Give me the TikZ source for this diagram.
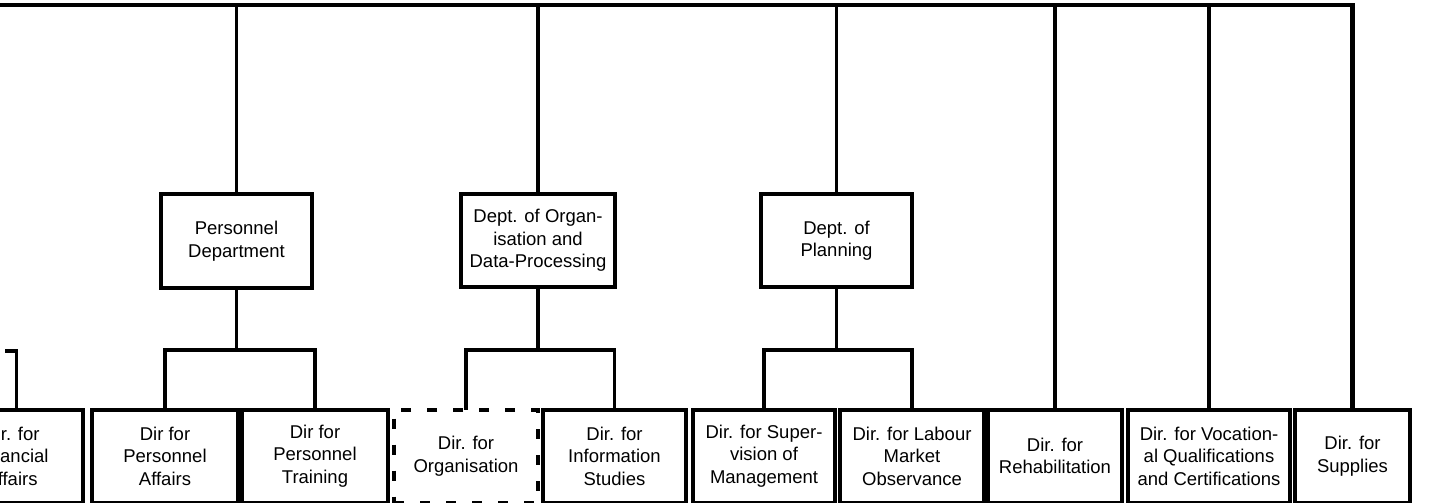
\documentclass[tikz,border=0pt]{standalone}
\usepackage{fontspec}
\setmainfont{Liberation Sans}
\begin{document}
\begin{tikzpicture}[x=1pt,y=-1pt,
  box/.style={draw,line width=4pt,rectangle,inner sep=0pt,outer sep=0pt,align=center,
    font=\fontsize{18.5}{22.5}\selectfont},
  dbox/.style={box,dash pattern=on 10pt off 16pt},
  conn/.style={line width=3.6pt,line join=miter}
]
\useasboundingbox (0,0) rectangle (1432,503);
\clip (0,0) rectangle (1432,503);
\fill[white] (0,0) rectangle (1432,503);

% department boxes
\node[box,minimum width=151pt,minimum height=94pt] (pers) at (236.5,241) {Personnel\\Department};
\node[box,minimum width=154pt,minimum height=93pt] (orgd) at (538,240.5) {Dept. of Organ-\\isation and\\Data-Processing};
\node[box,minimum width=151pt,minimum height=93pt] (plan) at (836.5,240.5) {Dept. of\\Planning};

% directorate boxes
\node[box,minimum width=143pt,minimum height=93pt] (fin) at (11.5,456) {Dir. for\\Financial\\Affairs};
\node[box,minimum width=146pt,minimum height=93pt] (paff) at (165,456) {Dir for\\Personnel\\Affairs};
\node[box,minimum width=146pt,minimum height=93pt] (ptrain) at (315,456) {Dir for\\Personnel\\Training};
\node[dbox,minimum width=144pt,minimum height=93pt] (dorg) at (466,456) {Dir. for\\Organisation};
\node[box,minimum width=143pt,minimum height=93pt] (info) at (614.5,456) {Dir. for\\Information\\Studies};
\node[box,minimum width=142pt,minimum height=93pt] (sup) at (764,456) {Dir. for Super-\\vision of\\Management};
\node[box,minimum width=144pt,minimum height=93pt] (lab) at (912,456) {Dir. for Labour\\Market\\Observance};
\node[box,minimum width=134pt,minimum height=93pt] (reh) at (1055,456) {Dir. for\\Rehabilitation};
\node[box,minimum width=162pt,minimum height=93pt] (voc) at (1209,456) {Dir. for Vocation-\\al Qualifications\\and Certifications};
\node[box,minimum width=115pt,minimum height=93pt] (supp) at (1352.5,456) {Dir. for\\Supplies};

% top line
\coordinate (topL) at (-5,5);
\coordinate (bar) at (0,350);
\coordinate (finbar) at (5,351);
\draw[conn,line width=4.2pt] (topL) -- (topL -| supp.north) -- (supp.north);
\foreach \n in {pers,orgd,plan,reh,voc}
  \draw[conn] (\n.north |- topL) -- (\n.north);

% brackets
\draw[conn] (pers.south) -- (pers.south |- bar);
\draw[conn] (paff.north) -- (paff.north |- bar) -| (ptrain.north);
\draw[conn] (orgd.south) -- (orgd.south |- bar);
\draw[conn] (dorg.north) -- (dorg.north |- bar) -| (info.north);
\draw[conn] (plan.south) -- (plan.south |- bar);
\draw[conn] (sup.north) -- (sup.north |- bar) -| (lab.north);
\draw[conn] (finbar) -| ([xshift=5pt]fin.north);
\end{tikzpicture}
\end{document}
